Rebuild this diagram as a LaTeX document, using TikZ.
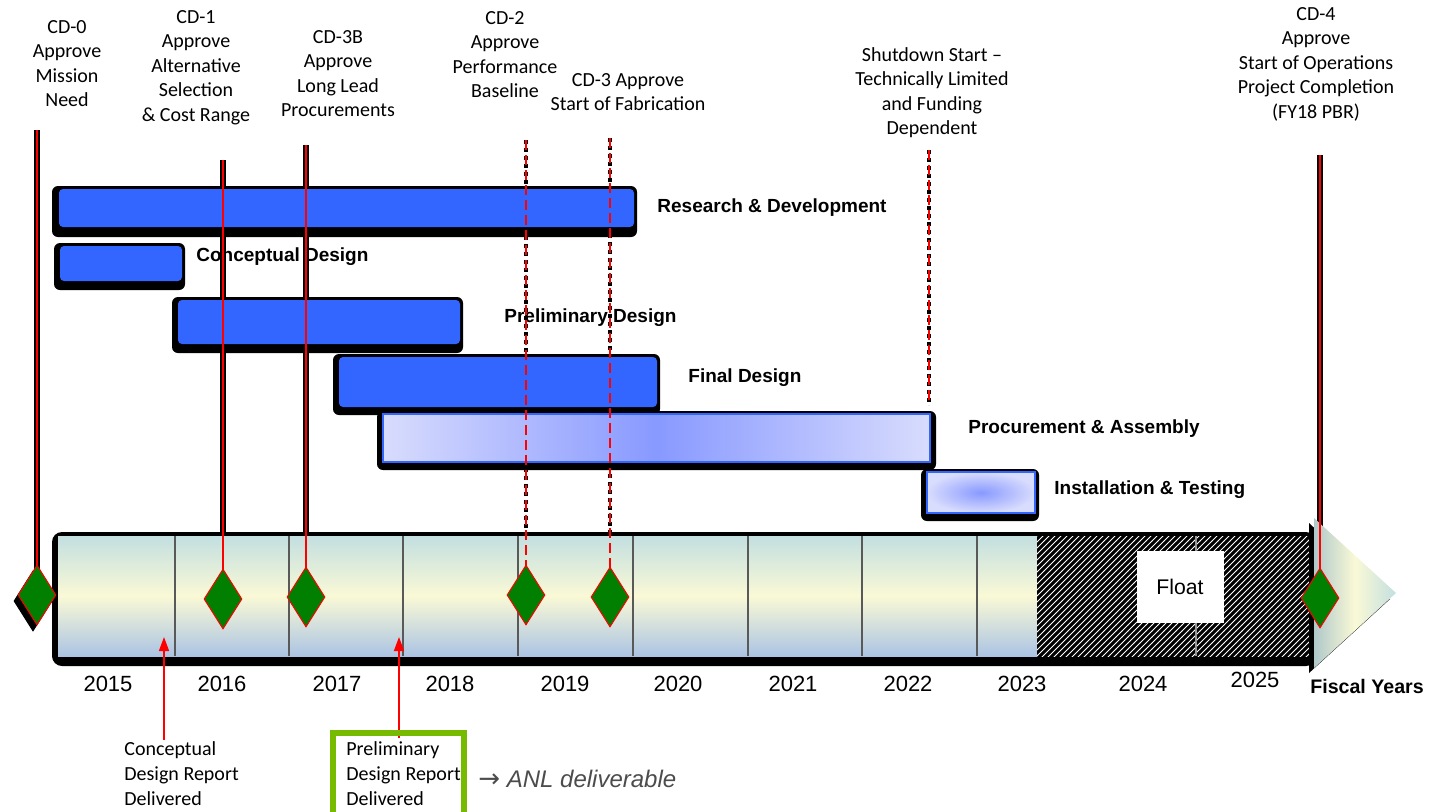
\documentclass[tikz,border=0pt]{standalone}
\usepackage{fontspec}
\setmainfont{Carlito}
\newfontfamily\arialfont{Liberation Sans}
\newfontfamily\arrowfont{DejaVu Sans}
\usetikzlibrary{shapes.geometric,patterns,arrows.meta,positioning}
\definecolor{barblue}{HTML}{3366FF}
\definecolor{cdgreen}{HTML}{007F00}
\definecolor{celltop}{HTML}{C3DFE0}
\definecolor{cellmid}{HTML}{FAF9D6}
\definecolor{anlgreen}{HTML}{77BB00}
\definecolor{proclight}{HTML}{D8DCFD}
\definecolor{procmid}{HTML}{8899FF}
\tikzset{
  cdline/.style={line width=3pt,black},
  cddash/.style={line width=2.2pt,black,dash pattern=on 2pt off 2pt},
  cdred/.style={red,line width=0.75pt},
  cdreddash/.style={red,line width=0.75pt,dash pattern=on 5pt off 2.5pt},
  cddiamond/.style={diamond,draw=red,fill=cdgreen,line width=0.5pt,inner sep=0pt,
    minimum width=19pt,minimum height=30pt},
  cdlabel/.style={align=center,anchor=north,inner sep=0pt,font=\fontsize{10}{12.25}\selectfont},
  notelabel/.style={align=left,anchor=north west,inner sep=0pt,font=\fontsize{10}{12.5}\selectfont},
  barlabel/.style={anchor=west,inner sep=0pt,font=\arialfont\bfseries\fontsize{9.5}{11}\selectfont},
  yearlabel/.style={inner sep=0pt,font=\arialfont\fontsize{11}{13}\selectfont},
  barshadow/.style={fill=black,rounded corners=3pt},
}

\begin{document}
\begin{tikzpicture}[x=0.5pt,y=-0.5pt]
  \useasboundingbox (0,0) rectangle (1439,811);

  % milestones: top of line and diamond centre
  \coordinate (cd0top)  at (37,130);   \coordinate (cd0)  at (37,595);
  \coordinate (cd1top)  at (223,160);  \coordinate (cd1)  at (223,599);
  \coordinate (cd3btop) at (306,145);  \coordinate (cd3b) at (306,597);
  \coordinate (cd2top)  at (526,140);  \coordinate (cd2)  at (526,595);
  \coordinate (cd3top)  at (610,138);  \coordinate (cd3)  at (610,597);
  \coordinate (cd4top)  at (1320,155); \coordinate (cd4)  at (1320,598);
  \coordinate (shuttop) at (929,150);  \coordinate (shut) at (929,405);

  \node [cdlabel] (cd0text)  at (67,20)   {CD-0\\Approve\\Mission\\Need};
  \node [cdlabel] (cd1text)  at (196,10)  {CD-1\\Approve\\Alternative\\Selection\\\& Cost Range};
  \node [cdlabel] (cd3btext) at (338,30)  {CD-3B\\Approve\\Long Lead\\Procurements};
  \node [cdlabel] (cd2text)  at (505,11)  {CD-2\\Approve\\Performance\\Baseline};
  \node [cdlabel] (cd3text)  at (628,73)  {CD-3 Approve\\Start of Fabrication};
  \node [cdlabel] (shuttext) at (932,47)  {Shutdown Start --\\Technically Limited\\and Funding\\Dependent};
  \node [cdlabel] (cd4text)  at (1316,7)  {CD-4\\Approve\\Start of Operations\\Project Completion\\(FY18 PBR)};

  \node [barlabel] (rdlabel)    at (657,208) {Research \& Development};
  \node [barlabel] (cdlabel)    at (196,257) {Conceptual Design};
  \node [barlabel] (pdlabel)    at (504,318) {Preliminary Design};
  \node [barlabel] (fdlabel)    at (688,378) {Final Design};
  \node [barlabel] (palabel)    at (968,429) {Procurement \& Assembly};
  \node [barlabel] (itlabel)    at (1054,490) {Installation \& Testing};

  \draw [cdline] (cd0top) -- (cd0);
  \draw [cdline] (cd1top) -- (cd1);
  \draw [cdline] (cd3btop) -- (cd3b);
  \draw [cdline] (cd4top) -- (cd4);
  \draw [cddash] (cd2top) -- (cd2);
  \draw [cddash] (cd3top) -- (cd3);
  \draw [cddash] (shuttop) -- (shut);

  % task bars
  \fill [barshadow] (52,186) rectangle (637,237);
  \fill [barblue,rounded corners=2pt] (59,189) rectangle (634,227);
  \fill [barshadow] (54,243) rectangle (185,290);
  \fill [barblue,rounded corners=2pt] (60,246) rectangle (182,281);
  \fill [barshadow] (172,297) rectangle (463,353);
  \fill [barblue,rounded corners=2pt] (178,300) rectangle (460,344);
  \fill [barshadow] (333,354) rectangle (660,415);
  \fill [barblue,rounded corners=2pt] (339,357) rectangle (657,407);
  \fill [barshadow] (377,411) rectangle (936,470);
  \shade [left color=proclight,right color=proclight,middle color=procmid]
    (383,414) rectangle (930,462);
  \draw [barblue,line width=1pt] (383,414) rectangle (930,462);
  \fill [barshadow] (921,469) rectangle (1039,521);
  \shade [inner color=procmid,outer color=proclight] (927,472) rectangle (1035,513);
  \draw [barblue,line width=1pt] (927,472) rectangle (1035,513);

  % time line
  \fill [black,rounded corners=5pt] (52,532) rectangle (1316,666);
  \foreach \xa/\xb in {58/175,175/289,289/403,403/518,518/633,633/748,748/862,862/977,977/1037}
    \shade [top color=celltop,bottom color=celltop!88!blue,middle color=cellmid]
      (\xa,536) rectangle (\xb,656);
  \foreach \xa in {175,289,403,518,633,748,862,977}
    \draw [black!65,line width=0.8pt] (\xa,536) -- (\xa,656);
  \fill [black] (1037,536) rectangle (1310,656);
  \fill [pattern=north east lines,pattern color=white] (1037,536) rectangle (1310,656);
  \draw [black!40,line width=0.6pt] (1196,536) -- (1196,656);
  \node [fill=white,minimum width=43.5pt,minimum height=36pt,inner sep=0pt,
    font=\arialfont\fontsize{10.6}{12}\selectfont] (float) at (1180,587) {Float};
  \fill [black] (1309,523) -- (1309,673) -- (1390,599) -- cycle;
  \shade [left color=celltop!90!black,right color=celltop,middle color=cellmid]
    (1314,518) -- (1314,668) -- (1396,593) -- cycle;

  \foreach \yr/\xx in {2015/108,2016/222,2017/337,2018/450,2019/565,2020/678,2021/793,2022/908,2023/1022,2024/1143}
    \node [yearlabel] (y\yr) at (\xx,684) {\yr};
  \node [yearlabel] (y2025) at (1255,680) {2025};
  \node [yearlabel,font=\arialfont\bfseries\fontsize{9.8}{12}\selectfont] (fiscal) at (1367,686) {Fiscal Years};

  \draw [cdred] (cd0top) -- (cd0);
  \draw [cdred] (cd1top) -- (cd1);
  \draw [cdred] (cd3btop) -- (cd3b);
  \draw [cdred] (cd4top) -- (cd4);
  \draw [cdreddash] (cd2top) -- (cd2);
  \draw [cdreddash] (cd3top) -- (cd3);
  \draw [cdreddash] (shuttop) -- (shut);

  \node [cddiamond,fill=black,draw=black] at ([shift={(-4,6)}]cd0) {};
  \foreach \m in {cd0,cd1,cd3b,cd2,cd3,cd4}
    \node [cddiamond] (\m mark) at (\m) {};

  % report deliveries
  \coordinate (cdrtip) at (164,637);
  \coordinate (pdrtip) at (399,637);
  \node [notelabel] (cdr) at (124,741) {Conceptual\\Design Report\\Delivered};
  \node [notelabel] (pdr) at (346,741) {Preliminary\\Design Report\\Delivered};
  \draw [red,line width=0.75pt,-{Triangle[width=5pt,length=7pt]}] (cdrtip |- 0,740) -- (cdrtip);
  \draw [red,line width=0.75pt,-{Triangle[width=5pt,length=7pt]}] (pdrtip |- 0,738) -- (pdrtip);
  \draw [anlgreen,line width=3pt] (333,733) rectangle (464,818);
  \node [anchor=west,inner sep=0pt,text=black!70,font=\arialfont\itshape\fontsize{12}{14}\selectfont]
    (anl) at (478,779) {{\arrowfont\fontsize{13}{14}\selectfont →} ANL deliverable};
\end{tikzpicture}
\end{document}
